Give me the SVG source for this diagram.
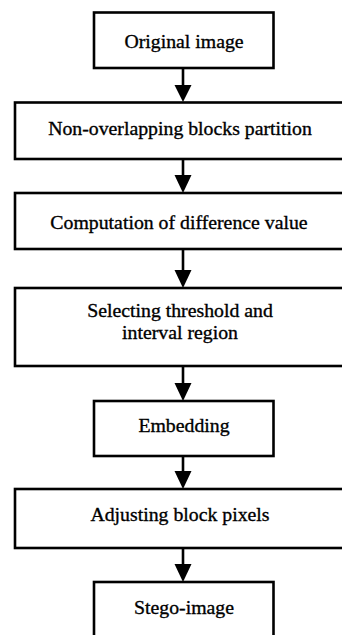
<svg xmlns="http://www.w3.org/2000/svg" width="342" height="635" viewBox="0 0 342 635">
<style>
.box{fill:#fff;stroke:#000;stroke-width:2.6}
.t{font-family:"Liberation Serif","Times New Roman",serif;font-size:19.8px;fill:#000;stroke:#000;stroke-width:0.35;text-anchor:middle}
.ln{stroke:#000;stroke-width:2.6;fill:none}
.ah{fill:#000}
</style>
<rect width="342" height="635" fill="#fff"/>
<g id="connectors">
<line class="ln" x1="183" y1="68" x2="183" y2="86"/><polygon class="ah" points="174.5,85 191.5,85 183,102"/>
<line class="ln" x1="183" y1="159" x2="183" y2="176"/><polygon class="ah" points="174.5,175 191.5,175 183,193"/>
<line class="ln" x1="183" y1="249" x2="183" y2="271"/><polygon class="ah" points="174.5,270 191.5,270 183,288"/>
<line class="ln" x1="183" y1="366" x2="183" y2="384"/><polygon class="ah" points="174.5,383 191.5,383 183,401"/>
<line class="ln" x1="183" y1="456" x2="183" y2="472"/><polygon class="ah" points="174.5,471 191.5,471 183,489"/>
<line class="ln" x1="183" y1="548" x2="183" y2="565"/><polygon class="ah" points="174.5,564 191.5,564 183,582"/>
</g>
<g id="n1"><rect class="box" x="94" y="12.5" width="179.5" height="55.5"/><text class="t" x="184" y="48">Original image</text></g>
<g id="n2"><rect class="box" x="15" y="102.5" width="330" height="56.5"/><text class="t" x="180" y="135">Non-overlapping blocks partition</text></g>
<g id="n3"><rect class="box" x="15" y="193" width="330" height="56"/><text class="t" x="179" y="229">Computation of difference value</text></g>
<g id="n4"><rect class="box" x="15" y="288" width="330" height="78"/><text class="t" x="180" y="317">Selecting threshold and</text><text class="t" x="180" y="339">interval region</text></g>
<g id="n5"><rect class="box" x="94" y="401" width="179.5" height="55"/><text class="t" x="184" y="432">Embedding</text></g>
<g id="n6"><rect class="box" x="15" y="489" width="330" height="59"/><text class="t" x="180" y="521">Adjusting block pixels</text></g>
<g id="n7"><rect class="box" x="94" y="582" width="179.5" height="60"/><text class="t" x="184" y="614">Stego-image</text></g>
</svg>
